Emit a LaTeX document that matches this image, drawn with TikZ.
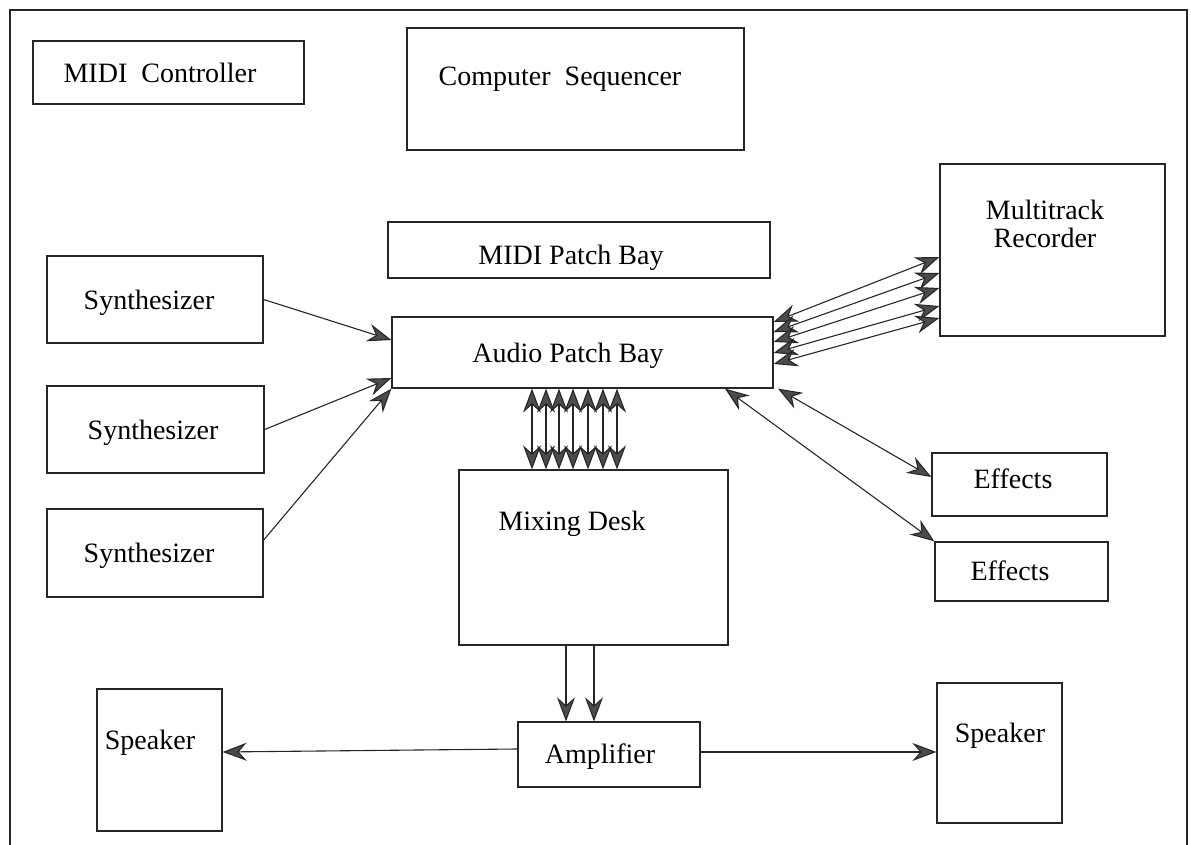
\documentclass[tikz,border=0pt]{standalone}
\usepackage{fontspec}
\setmainfont{Liberation Serif}
\usetikzlibrary{arrows.meta,fit}
\definecolor{linec}{gray}{0.15}
\definecolor{tipc}{gray}{0.3}
\tikzset{
  box/.style={draw=linec, line width=0.65pt, inner sep=0pt},
  lbl/.style={anchor=base, inner sep=0pt, font=\fontsize{14}{16}\selectfont},
  tipx/.tip={Stealth[length=12pt,width=9pt,inset=4pt,fill=tipc]},
  arr/.style={draw=linec, line width=0.55pt, -tipx},
  darr/.style={draw=linec, line width=0.55pt, tipx-tipx},
  frame/.style={draw=linec, line width=1pt},
}
\begin{document}
\begin{tikzpicture}[x=0.5pt,y=-0.5pt]
\useasboundingbox (0,0) rectangle (1191,845);
% outer frame, open at the bottom
\draw[frame] (10,850) -- (10,10) -- (1187,10) -- (1187,850);

% boxes
\node[box, fit={(33,41) (304,104)}] (mc) {};
\node[box, fit={(407,28) (744,150)}] (cs) {};
\node[box, fit={(388,222) (770,278)}] (mpb) {};
\node[box, fit={(392,317) (773,388)}] (apb) {};
\node[box, fit={(940,164) (1165,336)}] (mtr) {};
\node[box, fit={(47,256) (263,343)}] (syn1) {};
\node[box, fit={(47,386) (264,473)}] (syn2) {};
\node[box, fit={(47,509) (263,597)}] (syn3) {};
\node[box, fit={(459,470) (728,645)}] (mix) {};
\node[box, fit={(932,453) (1107,516)}] (eff1) {};
\node[box, fit={(935,542) (1108,601)}] (eff2) {};
\node[box, fit={(518,722) (700,787)}] (amp) {};
\node[box, fit={(97,689) (222,831)}] (spkL) {};
\node[box, fit={(937,683) (1062,823)}] (spkR) {};

% labels
\node[lbl] (mc-t) at (160,83) {MIDI\ \ Controller};
\node[lbl] (cs-t) at (560,86) {Computer\ \ Sequencer};
\node[lbl] (mpb-t) at (571,265) {MIDI Patch Bay};
\node[lbl] (apb-t) at (568,363) {Audio Patch Bay};
\node[lbl] (mtr-t1) at (1045,220) {Multitrack};
\node[lbl] (mtr-t2) at (1045,248) {Recorder};
\node[lbl] (syn1-t) at (149,310) {Synthesizer};
\node[lbl] (syn2-t) at (153,440) {Synthesizer};
\node[lbl] (syn3-t) at (149,563) {Synthesizer};
\node[lbl] (mix-t) at (572,531) {Mixing Desk};
\node[lbl] (eff1-t) at (1013,489) {Effects};
\node[lbl] (eff2-t) at (1010,581) {Effects};
\node[lbl] (amp-t) at (600,763) {Amplifier};
\node[lbl] (spkL-t) at (150,750) {Speaker};
\node[lbl] (spkR-t) at (1000,743) {Speaker};

% synthesizers into the audio patch bay
\draw[arr] (syn1.east) -- (apb.west |- 0,340);
\draw[arr] (syn2.east) -- (apb.west |- 0,378);
\draw[arr] (syn3.east |- 0,540) -- (apb.south west);

% audio patch bay <-> multitrack recorder
\foreach \a/\b in {322/257, 332/273, 342/288, 353/306, 364/318}
  \draw[darr] (apb.east |- 0,\a) -- (mtr.west |- 0,\b);

% audio patch bay <-> mixing desk
\foreach \x in {532,546,559,573,588,603,617}
  \draw[darr] (apb.south -| \x,0) -- (mix.north -| \x,0);

% audio patch bay <-> effects
\draw[darr] (apb.south -| 725,0) -- (eff2.north west);
\draw[darr] (apb.south -| 778,0) -- (eff1.west |- 0,477);

% mixing desk to amplifier, amplifier to speakers
\draw[arr] (mix.south -| 566,0) -- (amp.north -| 566,0);
\draw[arr] (mix.south -| 594,0) -- (amp.north -| 594,0);
\draw[arr] (amp.west |- 0,749) -- (spkL.east |- 0,752);
\draw[arr] (amp.east |- 0,752) -- (spkR.west |- 0,752);
\end{tikzpicture}
\end{document}
